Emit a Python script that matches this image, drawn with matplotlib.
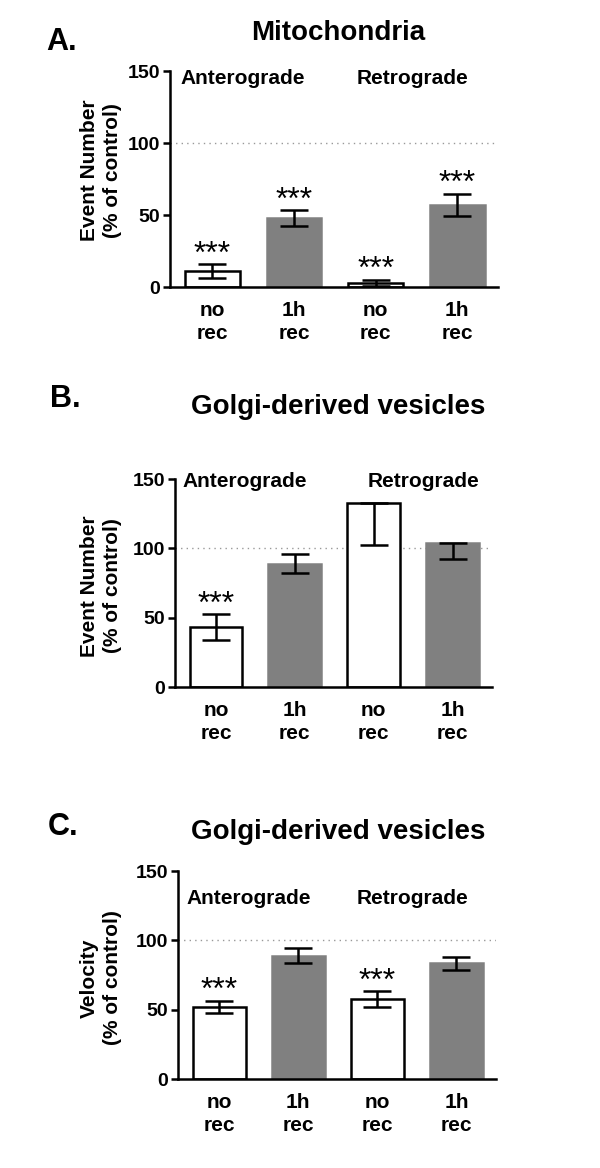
import matplotlib
matplotlib.use("Agg")
import matplotlib.pyplot as plt
import numpy as np

plt.rcParams['font.family'] = ['Liberation Sans', 'DejaVu Sans']
plt.rcParams['font.weight'] = 'bold'

categories = ["no\nrec", "1h\nrec", "no\nrec", "1h\nrec"]
groups = ["Anterograde", "Retrograde"]

mito_vals = [11, 48, 3, 57]
mito_err = [5, 5.5, 2, 7.8]
mito_stars = [True, True, True, True]

golgi_num_vals = [43, 89, 133, 104]
golgi_num_err_low = [9.3, 6.8, 30.8, 12]
golgi_num_err_high = [9.3, 6.8, 0, 0]
golgi_num_stars = [True, False, False, False]

golgi_vel_vals = [52, 89, 57.5, 83.4]
golgi_vel_err = [4.5, 5.4, 5.9, 4.6]
golgi_vel_stars = [True, False, True, False]

bar_colors = ["white", "#808080", "white", "#808080"]
edge_colors = ["black", "#808080", "black", "#808080"]

W, H = 600, 1168
fig = plt.figure(figsize=(W / 100, H / 100), dpi=100)


def rect(x0, x1, ytop, ybot):
    return [x0 / W, 1 - ybot / H, (x1 - x0) / W, (ybot - ytop) / H]


def panel(r, vals, elow, ehigh, stars, ylabel, group_pos, label_xy):
    ax = fig.add_axes(r)
    x = np.arange(len(vals))
    ax.axhline(100, color="#999999", ls=(0, (1, 3)), lw=1.0, zorder=0)
    ax.bar(x, vals, width=0.67, color=bar_colors, edgecolor=edge_colors,
           linewidth=1.8, zorder=2)
    ax.errorbar(x, vals, yerr=[elow, ehigh], fmt="none", ecolor="black",
                elinewidth=1.8, capsize=10, capthick=1.8, zorder=3)
    for xi, v, eh, s in zip(x, vals, ehigh, stars):
        if s:
            ax.annotate("***", (xi, v + eh), xytext=(0, -4),
                        textcoords="offset points", ha="center", va="bottom",
                        fontsize=23, fontweight="normal")
    for g, (gx, gy) in zip(groups, group_pos):
        ax.text(gx, gy, g, ha="center", va="center", fontsize=15,
                fontweight="bold")
    ax.set_xlim(-0.52, 3.5)
    ax.set_ylim(0, 150)
    ax.set_yticks([0, 50, 100, 150])
    ax.set_xticks(x)
    ax.set_xticklabels(categories, fontsize=15, fontweight="bold",
                       linespacing=1.3)
    ax.tick_params(axis="x", length=0, pad=10)
    ax.tick_params(axis="y", length=5, width=1.8, labelsize=14, pad=2)
    for sp in ["top", "right"]:
        ax.spines[sp].set_visible(False)
    for sp in ["left", "bottom"]:
        ax.spines[sp].set_linewidth(1.8)
    ax.set_ylabel(ylabel, fontsize=15, fontweight="bold", linespacing=1.3)
    ax.yaxis.set_label_coords(*label_xy)
    return ax


panel(rect(170, 498, 71, 287), mito_vals, mito_err, mito_err, mito_stars,
      "Event Number\n(% of control)", [(0.37, 144.5), (2.45, 144.5)],
      (-0.146, 0.54))
panel(rect(175, 492, 479, 687), golgi_num_vals, golgi_num_err_low,
      golgi_num_err_high, golgi_num_stars,
      "Event Number\n(% of control)", [(0.36, 148.5), (2.63, 148.5)],
      (-0.167, 0.486))
panel(rect(178, 496, 871, 1079), golgi_vel_vals, golgi_vel_err,
      golgi_vel_err, golgi_vel_stars,
      "Velocity\n(% of control)", [(0.37, 130), (2.45, 130)],
      (-0.176, 0.486))

titles = [("Mitochondria", 33), ("Golgi-derived vesicles", 407),
          ("Golgi-derived vesicles", 832)]
for t, y in titles:
    fig.text(338 / W, 1 - y / H, t, ha="center", va="center", fontsize=20,
             fontweight="bold")
for lab, x, y in [("A.", 46, 42), ("B.", 50, 399), ("C.", 48, 827)]:
    fig.text(x / W, 1 - y / H, lab, ha="left", va="center", fontsize=22,
             fontweight="bold")

fig.savefig("out.png", dpi=100)
